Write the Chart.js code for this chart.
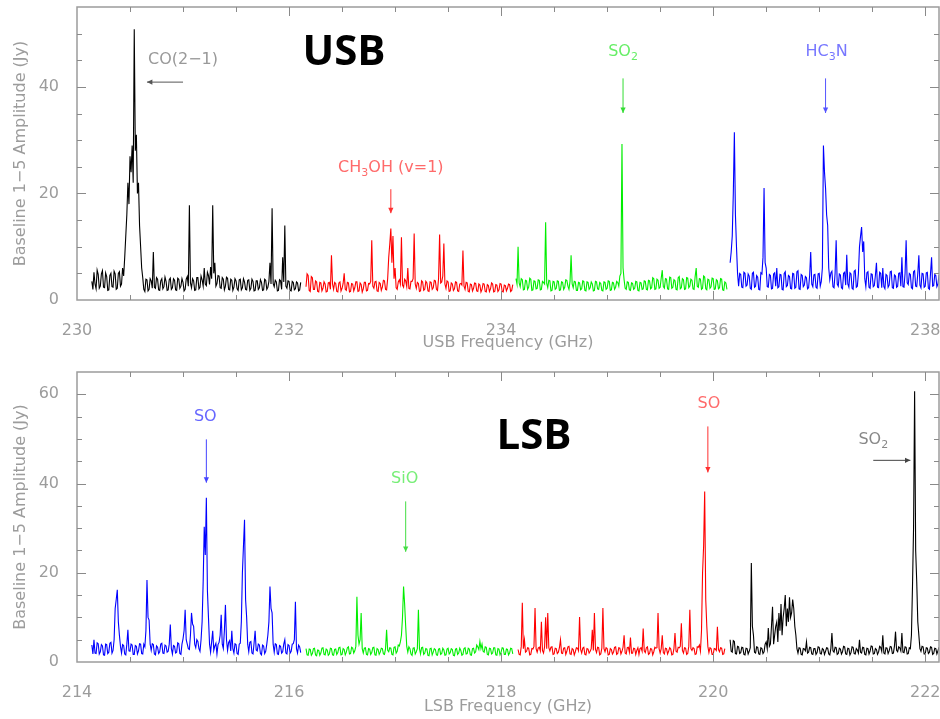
<!DOCTYPE html>
<html>
<head>
<meta charset="utf-8">
<title>USB / LSB spectra</title>
<script src="https://cdn.jsdelivr.net/npm/chart.js@4.4.1/dist/chart.umd.min.js"></script>
<style>
  html, body { margin: 0; padding: 0; background: #fff; overflow: hidden; }
  canvas { position: absolute; left: 0; }
  #usb-chart { top: 0; }
  #lsb-chart { top: 360px; }
</style>
</head>
<body>
<canvas id="usb-chart" width="940" height="355"></canvas>
<canvas id="lsb-chart" width="940" height="359"></canvas>
<script>
// channel spacing of every segment (GHz)
const CHANNEL_STEP = 0.01;

// ---- USB (upper sideband) ----
const usbBlackStart = 230.14;
const usbBlack = [
  3.5, 2.0, 5.2, 3.0, 2.1, 5.6, 4.8, 2.2, 2.6, 4.9, 5.5, 2.4, 2.3, 5.1, 4.4, 1.8, 1.9, 4.6, 5.0, 2.5,
  2.4, 5.4, 4.9, 2.0, 2.2, 5.0, 5.3, 2.6, 3.0, 6.0, 4.5, 8.0, 12, 16, 22, 18, 27, 24, 29, 22,
  50.8, 28, 31, 20, 22, 14, 10, 6, 4.2, 2.0, 1.6, 3.9, 3.8, 1.7, 2.0, 4.0, 3.6, 2.2, 9.0, 2.4,
  2.2, 4.2, 3.9, 1.9, 1.8, 3.6, 4.0, 2.1, 2.5, 4.3, 3.5, 1.8, 1.9, 3.8, 4.1, 2.0, 2.3, 4.0, 3.7, 1.9,
  1.8, 4.1, 3.9, 2.2, 2.6, 4.0, 3.3, 1.7, 2.0, 3.9, 4.4, 2.6, 17.8, 3.2, 2.3, 4.0, 3.6, 1.8, 1.9, 4.2,
  4.2, 2.1, 2.4, 4.5, 3.8, 2.6, 6.0, 3.0, 2.7, 5.2, 4.6, 2.9, 6.2, 4.0, 17.8, 5.0, 7.0, 2.6, 3.1, 4.6,
  4.5, 2.3, 2.2, 4.2, 3.9, 1.9, 2.6, 4.3, 4.1, 2.0, 1.9, 3.9, 3.7, 1.8, 2.4, 4.0, 3.6, 2.1, 1.8, 3.8,
  3.9, 1.9, 2.3, 4.0, 3.4, 2.0, 1.9, 3.7, 3.8, 1.8, 2.2, 3.9, 3.5, 1.7, 1.8, 3.6, 3.6, 2.0, 2.3, 3.8,
  3.3, 1.8, 1.9, 3.9, 3.7, 2.0, 2.4, 3.5, 7.0, 3.0, 17.2, 3.1, 2.5, 3.7, 3.4, 1.7, 1.8, 3.8, 3.6, 2.0,
  8.0, 3.4, 14.0, 2.6, 2.2, 3.6, 3.5, 1.8, 1.7, 3.5, 3.3, 1.9, 2.1, 3.4, 3.2, 1.7, 1.9, 3.3
];
const usbRedStart = 232.16;
const usbRed = [
  2.5, 4.9, 4.6, 1.8, 1.6, 4.4, 4.2, 2.0, 2.0, 3.6, 3.4, 1.6, 1.5, 3.3, 3.2, 1.7, 2.2, 3.4, 3.0, 1.5,
  1.6, 3.2, 3.3, 2.0, 8.4, 3.0, 2.0, 3.3, 3.1, 1.6, 1.5, 3.2, 3.4, 1.7, 2.2, 3.1, 5.0, 2.0, 1.8, 3.3,
  3.2, 1.5, 1.6, 3.1, 3.0, 1.7, 2.3, 3.4, 3.4, 1.6, 1.7, 3.2, 2.9, 1.5, 2.1, 3.3, 3.3, 1.7, 1.8, 3.1,
  3.0, 3.5, 11.2, 2.6, 2.2, 3.4, 3.5, 1.7, 1.6, 3.3, 3.1, 1.8, 2.4, 3.7, 3.6, 2.0, 1.9, 4.0, 8.0, 10.5,
  13.4, 7.0, 12.0, 4.0, 6.0, 2.3, 2.0, 3.4, 3.8, 3.0, 11.8, 2.8, 2.4, 3.9, 3.6, 2.5, 6.0, 2.2, 2.1, 3.5,
  3.5, 4.0, 12.5, 3.0, 2.2, 3.3, 3.1, 1.6, 1.7, 3.6, 3.4, 1.8, 2.0, 3.5, 3.2, 1.7, 1.6, 3.4, 3.3, 2.0,
  2.3, 3.7, 3.6, 2.0, 1.8, 4.0, 12.3, 3.2, 3.4, 4.5, 10.6, 3.0, 2.2, 3.6, 3.4, 1.6, 1.7, 3.2, 3.0, 1.8,
  2.1, 3.4, 3.3, 1.7, 1.6, 3.0, 3.1, 2.8, 9.3, 2.6, 2.0, 3.3, 3.2, 1.6, 1.5, 3.0, 2.9, 1.7, 2.2, 3.2,
  3.1, 1.7, 1.6, 3.0, 2.8, 1.5, 2.0, 3.1, 3.0, 1.6, 1.5, 2.9, 2.7, 1.6, 2.1, 3.2, 3.0, 1.5, 1.6, 2.9,
  2.8, 1.6, 1.9, 3.1, 3.0, 1.6, 1.5, 2.8, 2.7, 1.7, 2.2, 3.0, 2.9, 1.6, 1.8, 2.9
];
const usbGreenStart = 234.14;
const usbGreen = [
  4.0, 3.0, 10.0, 3.2, 2.5, 4.0, 3.8, 1.9, 2.0, 3.7, 3.6, 2.0, 2.4, 4.1, 3.9, 1.8, 1.9, 3.6, 3.5, 2.1,
  2.2, 3.8, 3.7, 1.9, 2.0, 3.5, 3.3, 3.0, 14.6, 3.1, 2.3, 3.7, 3.6, 1.7, 1.8, 3.5, 3.4, 2.0, 2.2, 3.6,
  3.5, 1.8, 1.9, 3.4, 3.3, 2.0, 2.4, 3.8, 3.7, 2.6, 2.0, 3.5, 8.4, 3.0, 2.3, 3.5, 3.4, 1.8, 1.8, 3.3,
  3.2, 1.9, 2.1, 3.6, 3.5, 1.8, 1.7, 3.4, 3.3, 2.0, 2.3, 3.4, 3.0, 1.7, 1.8, 3.5, 3.4, 2.1, 2.0, 3.3,
  3.1, 1.8, 1.7, 3.4, 3.3, 2.0, 2.2, 3.6, 3.5, 1.8, 1.9, 3.3, 3.2, 2.0, 2.4, 3.5, 3.3, 2.6, 4.5, 5.0,
  29.3, 6.0, 3.8, 2.2, 2.0, 3.4, 3.3, 1.9, 1.8, 3.2, 3.1, 2.0, 2.2, 3.5, 3.4, 1.8, 1.7, 3.3, 3.2, 2.0,
  2.1, 3.6, 3.5, 2.0, 1.9, 3.7, 3.6, 2.1, 2.3, 4.2, 4.0, 2.0, 2.1, 3.9, 3.7, 2.2, 2.4, 4.1, 5.6, 2.5,
  2.2, 4.0, 3.9, 2.1, 2.0, 4.3, 4.2, 2.2, 2.4, 3.8, 3.6, 2.0, 1.9, 4.2, 4.4, 2.1, 2.3, 4.0, 3.8, 2.0,
  2.1, 4.2, 4.1, 2.3, 2.6, 3.9, 3.7, 2.1, 2.0, 4.4, 6.0, 2.6, 2.4, 4.0, 3.9, 2.0, 2.2, 4.5, 4.3, 2.1,
  1.9, 3.9, 3.8, 2.2, 2.5, 4.1, 4.0, 2.0, 2.1, 3.8, 3.6, 2.1, 2.3, 4.0, 3.9, 1.9, 1.8, 3.4, 3.2, 2.0
];
const usbBlueStart = 236.16;
const usbBlue = [
  7.0, 9.0, 12.0, 20.0, 31.5, 16.0, 10.0, 5.0, 2.6, 5.0, 4.8, 2.4, 2.3, 5.2, 5.0, 2.6, 2.8, 4.9, 4.5, 2.2,
  2.0, 5.0, 5.2, 2.4, 2.6, 4.6, 4.3, 2.0, 1.9, 5.1, 4.9, 8.0, 21.0, 7.0, 6.0, 2.5, 2.4, 4.8, 4.6, 2.1,
  2.2, 4.9, 5.1, 2.6, 6.0, 2.3, 2.5, 4.8, 4.7, 2.0, 1.9, 5.0, 5.3, 2.5, 2.7, 4.6, 4.4, 2.2, 2.1, 5.0,
  4.9, 2.2, 2.4, 5.3, 5.5, 2.1, 2.0, 4.8, 4.6, 2.5, 2.8, 4.4, 4.2, 2.1, 2.3, 4.6, 9.0, 3.0, 2.5, 4.7,
  4.8, 2.4, 2.2, 4.9, 5.0, 2.6, 3.5, 6.0, 29.0, 24.0, 21.0, 16.0, 14.0, 6.0, 3.8, 5.1, 5.4, 2.5, 2.3, 5.0,
  11.2, 3.0, 2.6, 4.9, 4.7, 2.3, 2.1, 5.0, 5.2, 2.8, 8.5, 3.0, 2.4, 5.1, 4.9, 2.2, 2.0, 5.4, 5.6, 2.4,
  2.6, 5.0, 10.0, 12.0, 13.7, 9.0, 11.0, 4.0, 2.5, 5.1, 5.3, 2.4, 2.2, 4.9, 4.8, 2.5, 2.7, 4.6, 7.0, 2.4,
  2.3, 5.2, 5.0, 2.3, 6.0, 2.5, 2.1, 4.8, 4.6, 2.4, 2.8, 5.3, 5.4, 2.3, 2.2, 4.7, 4.5, 2.4, 2.6, 5.0,
  5.1, 2.6, 8.0, 2.5, 2.4, 5.0, 11.2, 3.2, 2.9, 5.0, 4.8, 2.3, 2.1, 5.3, 5.5, 2.6, 2.5, 5.0, 8.4, 2.8,
  2.3, 5.0, 4.9, 2.4, 2.6, 5.1, 5.2, 2.2, 2.0, 5.0, 8.0, 2.6, 2.7, 4.8, 4.6, 2.5, 3.0, 4.7
];

// ---- LSB (lower sideband) ----
const lsbBlueStart = 214.14;
const lsbBlue = [
  3.8, 1.8, 5.0, 2.0, 1.9, 4.3, 4.1, 1.8, 2.3, 3.9, 3.6, 1.6, 1.5, 4.0, 3.9, 1.9, 2.2, 4.2, 4.4, 2.0,
  2.6, 5.0, 12.0, 14.0, 16.2, 9.0, 6.0, 3.5, 2.0, 3.9, 3.7, 1.8, 1.6, 4.0, 7.2, 2.5, 2.4, 4.0, 3.8, 1.7,
  1.7, 3.7, 3.5, 1.8, 2.5, 4.1, 4.0, 1.9, 1.8, 4.0, 3.4, 7.0, 18.4, 10.0, 9.4, 4.0, 2.6, 4.1, 3.9, 1.8,
  1.6, 3.6, 3.3, 1.9, 2.3, 4.0, 4.2, 2.0, 1.9, 3.8, 3.6, 2.2, 2.4, 4.0, 8.4, 3.0, 1.8, 3.7, 3.5, 2.0,
  2.2, 4.3, 4.1, 1.9, 1.7, 4.0, 5.2, 7.0, 11.7, 5.0, 4.0, 3.0, 2.8, 6.0, 11.0, 8.5, 8.0, 4.0, 3.2, 5.0,
  4.6, 3.0, 2.4, 5.0, 9.0, 18.0, 30.3, 24.0, 36.8, 16.0, 10.0, 4.0, 2.2, 4.5, 7.0, 2.6, 3.6, 4.2, 1.8, 3.9,
  4.4, 6.0, 10.6, 4.0, 3.0, 7.0, 12.8, 5.0, 2.6, 4.4, 4.8, 2.5, 7.0, 3.0, 2.0, 4.1, 3.9, 1.9, 1.7, 4.0,
  4.2, 9.0, 20.0, 26.0, 31.9, 14.0, 10.0, 4.0, 2.3, 4.4, 4.6, 2.0, 1.8, 4.2, 7.0, 2.7, 2.5, 4.0, 3.8, 1.9,
  1.6, 3.8, 3.6, 1.9, 2.4, 4.0, 6.0, 9.0, 16.9, 12.0, 11.0, 4.0, 2.2, 4.1, 3.9, 1.8, 1.7, 3.7, 3.5, 2.0,
  2.3, 4.0, 5.0, 2.0, 1.8, 3.9, 3.7, 2.0, 2.4, 4.0, 4.1, 5.0, 13.5, 3.0, 2.0, 3.8, 3.4, 2.1
];
const lsbGreenStart = 216.16;
const lsbGreen = [
  3.0, 1.6, 1.5, 2.9, 2.8, 1.5, 1.9, 3.0, 3.1, 1.6, 1.4, 2.7, 2.6, 1.5, 2.0, 3.1, 3.2, 1.7, 1.6, 2.9,
  2.7, 1.5, 1.8, 3.1, 3.0, 1.6, 1.5, 2.8, 2.9, 1.7, 2.1, 3.2, 3.3, 1.6, 1.7, 3.0, 2.8, 1.6, 2.2, 3.2,
  3.4, 1.8, 1.9, 3.3, 3.1, 2.0, 2.5, 3.5, 14.6, 6.0, 4.0, 5.0, 11.0, 3.0, 2.0, 3.1, 3.2, 1.7, 1.6, 3.0,
  2.9, 1.7, 2.1, 3.2, 3.3, 1.6, 1.5, 3.0, 2.8, 1.7, 2.2, 3.1, 3.0, 1.8, 1.7, 3.0, 7.2, 2.6, 2.3, 3.2,
  3.1, 1.7, 1.6, 3.3, 3.4, 2.0, 2.4, 3.8, 3.6, 4.5, 6.0, 10.0, 16.9, 13.0, 8.0, 3.5, 2.2, 3.4, 3.0, 1.8,
  1.5, 3.1, 3.2, 1.8, 2.3, 3.0, 11.7, 3.0, 1.8, 3.2, 3.3, 1.7, 2.0, 3.0, 2.9, 1.5, 1.4, 3.0, 3.1, 1.6,
  2.2, 3.0, 2.8, 1.6, 1.5, 2.9, 3.0, 1.7, 1.9, 3.1, 2.7, 1.5, 1.6, 2.9, 3.1, 1.8, 2.1, 3.0, 2.8, 1.5,
  1.4, 2.9, 3.0, 1.7, 2.0, 3.1, 2.6, 1.5, 1.7, 3.0, 3.2, 1.8, 1.9, 3.1, 2.9, 1.6, 1.5, 3.0, 3.1, 2.0,
  2.3, 3.8, 3.4, 2.8, 4.6, 3.0, 4.0, 2.4, 2.2, 3.4, 3.3, 1.7, 1.6, 3.1, 3.0, 1.8, 2.0, 3.2, 3.2, 1.6,
  1.5, 3.0, 2.9, 1.6, 2.2, 3.2, 3.1, 1.7, 1.7, 2.9, 2.8, 1.6, 2.0, 3.1, 3.0, 1.8
];
const lsbRedStart = 218.16;
const lsbRed = [
  2.8, 1.7, 1.6, 3.5, 13.3, 3.0, 5.0, 2.2, 2.4, 3.2, 3.1, 1.6, 1.7, 3.0, 2.9, 3.5, 12.1, 3.0, 2.2, 3.1,
  3.3, 2.5, 9.0, 2.6, 2.0, 3.4, 10.0, 3.0, 11.0, 3.2, 2.5, 3.3, 3.4, 1.7, 1.8, 3.1, 3.0, 1.9, 2.2, 3.2,
  5.0, 2.0, 1.9, 3.1, 3.2, 1.7, 2.4, 3.4, 3.5, 1.8, 1.7, 3.0, 2.8, 1.6, 2.3, 3.2, 3.1, 2.5, 10.1, 2.8,
  2.0, 3.1, 3.3, 1.7, 1.6, 3.0, 2.9, 2.0, 2.4, 3.0, 7.2, 2.6, 11.0, 2.8, 2.1, 3.3, 3.2, 1.6, 1.8, 3.1,
  12.1, 3.0, 2.3, 3.2, 3.0, 1.6, 1.7, 3.0, 2.8, 1.8, 2.2, 3.3, 3.4, 1.7, 1.9, 3.2, 3.1, 1.8, 2.4, 3.3,
  6.0, 2.0, 1.8, 3.2, 3.3, 2.2, 5.5, 2.0, 2.0, 3.1, 3.0, 1.7, 2.6, 3.2, 1.7, 3.0, 3.2, 2.4, 7.5, 2.5,
  2.1, 3.2, 3.4, 1.7, 1.9, 3.0, 2.9, 1.6, 2.3, 3.3, 3.1, 3.2, 11.0, 3.0, 2.0, 3.0, 6.0, 2.1, 1.8, 3.1,
  3.0, 1.8, 2.4, 3.2, 2.9, 1.6, 1.7, 3.0, 6.5, 2.4, 2.2, 3.3, 3.2, 3.5, 8.7, 2.6, 2.0, 3.2, 3.1, 1.7,
  1.9, 3.5, 11.7, 3.0, 2.6, 3.2, 3.0, 1.7, 1.8, 3.4, 3.3, 3.8, 2.4, 7.0, 20.0, 26.0, 38.2, 14.0, 8.0, 3.5,
  2.1, 3.2, 3.0, 1.7, 1.7, 3.0, 2.9, 2.6, 7.9, 2.8, 2.3, 3.2, 3.1, 1.7, 1.8, 3.0
];
const lsbBlackStart = 220.16;
const lsbBlack = [
  5.0, 2.4, 2.2, 4.8, 4.6, 1.9, 1.8, 3.5, 3.4, 1.9, 2.1, 3.3, 3.2, 1.7, 1.6, 3.1, 3.0, 1.8, 2.4, 3.2,
  22.2, 8.0, 6.0, 2.2, 2.0, 3.4, 3.3, 1.8, 1.7, 3.2, 3.0, 1.9, 2.3, 4.0, 4.5, 3.0, 7.6, 3.5, 4.0, 8.0,
  12.4, 4.0, 6.0, 8.0, 9.0, 4.5, 11.0, 7.0, 13.0, 6.0, 10.0, 12.0, 15.0, 8.0, 12.0, 9.0, 14.5, 10.0, 11.0, 14.0,
  12.0, 8.0, 6.0, 3.0, 2.0, 3.2, 3.1, 1.7, 1.6, 3.0, 2.9, 2.5, 4.5, 2.0, 2.2, 3.3, 3.2, 1.8, 1.7, 3.0,
  3.0, 1.7, 2.1, 3.4, 3.3, 1.9, 1.8, 3.0, 2.8, 1.7, 2.4, 3.2, 3.1, 1.8, 1.6, 3.0, 6.5, 2.5, 2.2, 3.3,
  3.2, 1.7, 1.9, 3.1, 2.9, 1.8, 2.3, 3.5, 3.4, 1.8, 1.7, 3.1, 3.0, 1.6, 2.1, 3.4, 3.3, 1.9, 1.8, 3.0,
  2.7, 2.0, 5.0, 2.2, 2.0, 3.3, 3.2, 1.7, 1.6, 3.1, 3.0, 1.8, 2.4, 3.6, 3.5, 1.8, 1.9, 3.0, 2.8, 1.7,
  2.2, 3.5, 3.3, 2.4, 6.0, 2.0, 1.8, 3.2, 3.1, 1.9, 2.5, 3.5, 3.4, 1.9, 2.0, 3.6, 6.8, 2.6, 2.3, 3.4,
  3.2, 2.5, 6.5, 2.2, 2.1, 3.4, 3.3, 1.8, 1.9, 3.2, 3.0, 6.0, 17.0, 30.0, 60.7, 25.0, 18.0, 9.0, 6.0, 3.0,
  2.4, 3.5, 3.4, 1.8, 1.8, 3.2, 3.1, 1.9, 2.2, 3.4, 3.3, 1.7, 1.9, 3.1, 3.0, 1.8, 2.5, 3.3
];

// labelled ticks
const usbFreqLabels = [230, 232, 234, 236, 238];
const lsbFreqLabels = [214, 216, 218, 220, 222];
const usbAmpLabels = [0, 20, 40];
const lsbAmpLabels = [0, 20, 40, 60];

const AXIS_GREY = '#9c9c9c';
const TICK_GREY = '#8a8a8a';
const LABEL_FONT = '"DejaVu Sans", sans-serif';

function toPoints(start, values) {
    return values.map((v, i) => ({ x: start + i * CHANNEL_STEP, y: v }));
}

function segment(start, values, color) {
    return {
        data: toPoints(start, values),
        borderColor: color,
        borderWidth: 1.1,
        pointRadius: 0,
        tension: 0,
        fill: false
    };
}

// evenly spaced tick values (major and minor) between two bounds
function stepTicks(from, to, step) {
    const out = [];
    for (let v = from; v <= to + 1e-9; v += step) out.push({ value: Math.round(v * 100) / 100 });
    return out;
}

function isLabelled(value, list) {
    return list.some(v => Math.abs(v - value) < 1e-6);
}

// frame with inward ticks on all four sides (pgplot style)
const framePlugin = {
    id: 'pgFrame',
    afterDraw(chart, args, opts) {
        const ctx = chart.ctx;
        const a = chart.chartArea;
        const x = chart.scales.x, y = chart.scales.y;
        ctx.save();
        ctx.strokeStyle = AXIS_GREY;
        ctx.lineWidth = 1.5;
        ctx.strokeRect(a.left, a.top, a.right - a.left, a.bottom - a.top);
        ctx.fillStyle = TICK_GREY;
        opts.xTicks.forEach(v => {
            const px = Math.round(x.getPixelForValue(v));
            if (px <= a.left + 1 || px >= a.right - 1) return;
            const len = isLabelled(v, opts.xMajor) ? 9 : 5;
            ctx.fillRect(px, a.bottom - len, 1, len);
            ctx.fillRect(px, a.top, 1, len);
        });
        opts.yTicks.forEach(v => {
            const py = Math.round(y.getPixelForValue(v));
            if (py >= a.bottom - 1 || py <= a.top + 1) return;
            const len = isLabelled(v, opts.yMajor) ? 9 : 5;
            ctx.fillRect(a.left, py, len, 1);
            ctx.fillRect(a.right - len, py, len, 1);
        });
        ctx.restore();
    }
};

// line labels with arrows, plus the big sideband name
function drawRich(ctx, parts, x, y, color) {
    const big = '16px ' + LABEL_FONT, small = '11px ' + LABEL_FONT;
    let total = 0;
    parts.forEach(p => {
        ctx.font = p[1] ? small : big;
        total += ctx.measureText(p[0]).width;
    });
    let cx = x - total / 2;
    ctx.fillStyle = color;
    ctx.textAlign = 'left';
    ctx.textBaseline = 'middle';
    parts.forEach(p => {
        ctx.font = p[1] ? small : big;
        ctx.fillText(p[0], cx, p[1] ? y + 5 : y);
        cx += ctx.measureText(p[0]).width;
    });
}

function drawArrow(ctx, x1, y1, x2, y2, color) {
    ctx.strokeStyle = color;
    ctx.fillStyle = color;
    ctx.lineWidth = 1;
    ctx.beginPath();
    ctx.moveTo(x1, y1);
    ctx.lineTo(x2, y2);
    ctx.stroke();
    const ang = Math.atan2(y2 - y1, x2 - x1);
    const s = 6;
    ctx.beginPath();
    ctx.moveTo(x2, y2);
    ctx.lineTo(x2 - s * Math.cos(ang - 0.45), y2 - s * Math.sin(ang - 0.45));
    ctx.lineTo(x2 - s * Math.cos(ang + 0.45), y2 - s * Math.sin(ang + 0.45));
    ctx.closePath();
    ctx.fill();
}

const notesPlugin = {
    id: 'notes',
    afterDraw(chart, args, opts) {
        const { ctx, scales: { x, y } } = chart;
        ctx.save();
        (opts.items || []).forEach(n => {
            drawRich(ctx, n.text, x.getPixelForValue(n.at[0]), y.getPixelForValue(n.at[1]), n.color);
            drawArrow(ctx,
                x.getPixelForValue(n.from[0]), y.getPixelForValue(n.from[1]),
                x.getPixelForValue(n.to[0]), y.getPixelForValue(n.to[1]), n.arrowColor);
        });
        if (opts.band) {
            ctx.font = 'bold 42px "Open Sans", sans-serif';
            ctx.fillStyle = '#000';
            ctx.textAlign = 'center';
            ctx.textBaseline = 'middle';
            ctx.fillText(opts.band.text, opts.band.px[0], opts.band.px[1]);
        }
        ctx.restore();
    }
};

function makeChart(id, o) {
    const xTickList = stepTicks(o.xLabels[0], o.xLabels[o.xLabels.length - 1], 0.5);
    const yTickList = stepTicks(0, o.yMax, 5);
    return new Chart(document.getElementById(id), {
        type: 'line',
        data: { datasets: o.datasets },
        plugins: [framePlugin, notesPlugin],
        options: {
            responsive: false,
            animation: false,
            layout: { padding: { top: o.padTop, right: 1, left: 0, bottom: 0 } },
            plugins: {
                legend: { display: false },
                tooltip: { enabled: false },
                pgFrame: {
                    xTicks: xTickList.map(t => t.value), yTicks: yTickList.map(t => t.value),
                    xMajor: o.xLabels, yMajor: o.yLabels
                },
                notes: { items: o.notes, band: o.band }
            },
            scales: {
                x: {
                    type: 'linear',
                    min: o.xMin,
                    max: o.xMax,
                    grid: { display: false },
                    border: { display: false },
                    afterBuildTicks: s => { s.ticks = xTickList.map(t => ({ value: t.value })); },
                    afterFit: s => { s.height = o.xAxisHeight; s.paddingLeft = 0; s.paddingRight = 0; },
                    ticks: {
                        autoSkip: false,
                        maxRotation: 0,
                        padding: 13,
                        color: AXIS_GREY,
                        font: { family: LABEL_FONT, size: 16 },
                        callback: v => isLabelled(v, o.xLabels) ? String(v) : ''
                    },
                    title: {
                        display: true,
                        text: o.xTitle,
                        color: AXIS_GREY,
                        font: { family: LABEL_FONT, size: 16 },
                        padding: { top: 0, bottom: o.xTitlePad }
                    }
                },
                y: {
                    type: 'linear',
                    min: 0,
                    max: o.yMax,
                    grid: { display: false },
                    border: { display: false },
                    afterBuildTicks: s => { s.ticks = yTickList.map(t => ({ value: t.value })); },
                    afterFit: s => { s.width = 77; s.paddingTop = 0; s.paddingBottom = 0; },
                    ticks: {
                        autoSkip: false,
                        padding: 10,
                        color: AXIS_GREY,
                        font: { family: LABEL_FONT, size: 16 },
                        callback: v => isLabelled(v, o.yLabels) ? String(v) : ''
                    },
                    title: {
                        display: true,
                        text: 'Baseline 1\u22125 Amplitude (Jy)',
                        color: AXIS_GREY,
                        font: { family: LABEL_FONT, size: 16 },
                        padding: { top: 11, bottom: 0 }
                    }
                }
            }
        }
    });
}

makeChart('usb-chart', {
    xMin: 230, xMax: 238.13, yMax: 55,
    padTop: 7, xAxisHeight: 55, xTitlePad: 3,
    xLabels: usbFreqLabels, yLabels: usbAmpLabels,
    xTitle: 'USB Frequency (GHz)',
    datasets: [
        segment(usbBlackStart, usbBlack, '#000000'),
        segment(usbRedStart, usbRed, '#ff0000'),
        segment(usbGreenStart, usbGreen, '#00ee00'),
        segment(usbBlueStart, usbBlue, '#0000ff')
    ],
    band: { text: 'USB', px: [344, 53] },
    notes: [
        { text: [['CO(2\u22121)', 0]], at: [231.0, 45], color: '#999999',
          from: [231.0, 40.9], to: [230.66, 40.9], arrowColor: '#555555' },
        { text: [['CH', 0], ['3', 1], ['OH (v=1)', 0]], at: [232.96, 24.8], color: '#ff6a6a',
          from: [232.96, 20.8], to: [232.96, 16.3], arrowColor: '#ff3030' },
        { text: [['SO', 0], ['2', 1]], at: [235.15, 46.5], color: '#66ee66',
          from: [235.15, 41.6], to: [235.15, 35.1], arrowColor: '#33dd33' },
        { text: [['HC', 0], ['3', 1], ['N', 0]], at: [237.07, 46.5], color: '#7777ff',
          from: [237.06, 41.6], to: [237.06, 35.1], arrowColor: '#5555ff' }
    ]
});

makeChart('lsb-chart', {
    xMin: 214, xMax: 222.13, yMax: 65,
    padTop: 12, xAxisHeight: 57, xTitlePad: 3,
    xLabels: lsbFreqLabels, yLabels: lsbAmpLabels,
    xTitle: 'LSB Frequency (GHz)',
    datasets: [
        segment(lsbBlueStart, lsbBlue, '#0000ff'),
        segment(lsbGreenStart, lsbGreen, '#00ee00'),
        segment(lsbRedStart, lsbRed, '#ff0000'),
        segment(lsbBlackStart, lsbBlack, '#000000')
    ],
    band: { text: 'LSB', px: [534, 77] },
    notes: [
        { text: [['SO', 0]], at: [215.21, 55.0], color: '#6666ff',
          from: [215.22, 49.9], to: [215.22, 40.2], arrowColor: '#4444ff' },
        { text: [['SiO', 0]], at: [217.09, 41.1], color: '#77ee77',
          from: [217.10, 36.0], to: [217.10, 24.7], arrowColor: '#44dd44' },
        { text: [['SO', 0]], at: [219.96, 57.8], color: '#ff6a6a',
          from: [219.95, 52.8], to: [219.95, 42.5], arrowColor: '#ff3030' },
        { text: [['SO', 0], ['2', 1]], at: [221.51, 49.7], color: '#888888',
          from: [221.51, 45.2], to: [221.86, 45.2], arrowColor: '#444444' }
    ]
});
</script>
</body>
</html>
